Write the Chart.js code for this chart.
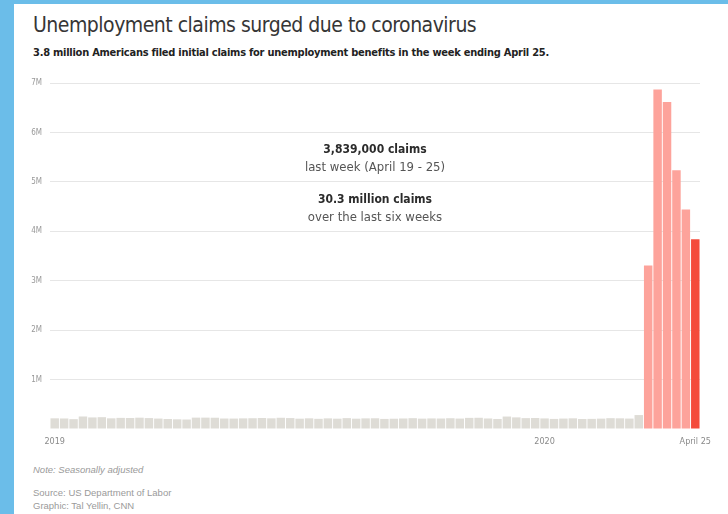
<!DOCTYPE html>
<html>
<head>
<meta charset="utf-8">
<script src="https://cdn.jsdelivr.net/npm/chart.js@4.4.1/dist/chart.umd.min.js"></script>
<style>
	html, body { margin: 0; padding: 0; background: #fff; }
	#page { position: relative; width: 728px; height: 514px; overflow: hidden; background: #fff; }
	.edge-left { position: absolute; left: 0; top: 0; width: 14px; height: 514px; background: #6bbde9; }
	.edge-top { position: absolute; left: 0; top: 0; width: 728px; height: 4px; background: #6bbde9; }
	.cond { font-family: "DejaVu Sans Condensed", "Liberation Sans Narrow", Roboto, sans-serif; font-stretch: condensed; }
	#title { position: absolute; left: 33px; top: 13px; font-size: 21px; line-height: 24px; letter-spacing: -0.5px; color: #363636; white-space: nowrap; }
	#subtitle { position: absolute; left: 33px; top: 46px; font-size: 11px; line-height: 14px; letter-spacing: -0.25px; font-weight: bold; color: #222; white-space: nowrap; }
	.foot { position: absolute; left: 33px; font-family: "Liberation Sans", Arial, sans-serif; font-size: 9.5px; line-height: 12px; color: #9a9a9a; white-space: nowrap; }
	#wrap { position: absolute; left: 14px; top: 60px; width: 714px; height: 400px; }
</style>
</head>
<body>
<div id="page">
	<div class="edge-left"></div>
	<div class="edge-top"></div>
	<div id="title" class="cond">Unemployment claims surged due to coronavirus</div>
	<div id="subtitle" class="cond">3.8 million Americans filed initial claims for unemployment benefits in the week ending April 25.</div>
	<div id="wrap"><canvas id="claims"></canvas></div>
	<div class="foot" style="top:464px;font-style:italic">Note: Seasonally adjusted</div>
	<div class="foot" style="top:487px">Source: US Department of Labor</div>
	<div class="foot" style="top:500px">Graphic: Tal Yellin, CNN</div>
</div>
<script>
// weekly initial jobless claims, seasonally adjusted
const weekEnding = [
	'2019-01-05', '2019-01-12', '2019-01-19', '2019-01-26', '2019-02-02', '2019-02-09', '2019-02-16', '2019-02-23',
	'2019-03-02', '2019-03-09', '2019-03-16', '2019-03-23', '2019-03-30', '2019-04-06', '2019-04-13', '2019-04-20',
	'2019-04-27', '2019-05-04', '2019-05-11', '2019-05-18', '2019-05-25', '2019-06-01', '2019-06-08', '2019-06-15',
	'2019-06-22', '2019-06-29', '2019-07-06', '2019-07-13', '2019-07-20', '2019-07-27', '2019-08-03', '2019-08-10',
	'2019-08-17', '2019-08-24', '2019-08-31', '2019-09-07', '2019-09-14', '2019-09-21', '2019-09-28', '2019-10-05',
	'2019-10-12', '2019-10-19', '2019-10-26', '2019-11-02', '2019-11-09', '2019-11-16', '2019-11-23', '2019-11-30',
	'2019-12-07', '2019-12-14', '2019-12-21', '2019-12-28', '2020-01-04', '2020-01-11', '2020-01-18', '2020-01-25',
	'2020-02-01', '2020-02-08', '2020-02-15', '2020-02-22', '2020-02-29', '2020-03-07', '2020-03-14', '2020-03-21',
	'2020-03-28', '2020-04-04', '2020-04-11', '2020-04-18', '2020-04-25'
]

const claims = [
	216000, 213000, 199000, 253000, 234000, 239000, 216000, 225000,
	223000, 229000, 221000, 211000, 202000, 196000, 192000, 230000,
	230000, 228000, 212000, 211000, 215000, 218000, 222000, 216000,
	227000, 221000, 209000, 216000, 206000, 215000, 209000, 220000,
	209000, 215000, 217000, 204000, 208000, 213000, 219000, 210000,
	214000, 212000, 218000, 211000, 225000, 227000, 213000, 203000,
	252000, 235000, 220000, 222000, 214000, 204000, 211000, 216000,
	202000, 205000, 210000, 219000, 216000, 211000, 282000, 3307000,
	6867000, 6615000, 5237000, 4442000, 3839000
]

// which week gets which x label
const xTickLabels = { '2019-01-05': '2019', '2020-01-04': '2020', '2020-04-25': 'April 25' }
const yTicks = [1000000, 2000000, 3000000, 4000000, 5000000, 6000000, 7000000]

const callout = [
	{ text: '3,839,000 claims', bold: true },
	{ text: 'last week (April 19 - 25)', bold: false },
	{ text: '30.3 million claims', bold: true },
	{ text: 'over the last six weeks', bold: false }
]

const condensed = '"DejaVu Sans Condensed", "Liberation Sans Narrow", Roboto, sans-serif'
const last = claims.length - 1

function barColor(i) {
	if (i === last) return '#f44b3b'
	if (i >= last - 5) return '#fda39b'
	return '#dedcd6'
}

const calloutPlugin = {
	id: 'callout',
	afterDatasetsDraw(chart) {
		const ctx = chart.ctx
		const area = chart.chartArea
		const cx = (area.left + area.right) / 2
		const offsets = [67, 85, 117, 135]
		ctx.save()
		ctx.textAlign = 'center'
		ctx.textBaseline = 'middle'
		callout.forEach((line, i) => {
			ctx.font = (line.bold ? 'bold 12px ' : '13px ') + condensed
			ctx.fillStyle = line.bold ? '#2b2b2b' : '#555'
			ctx.fillText(line.text, cx, area.top + offsets[i])
		})
		ctx.restore()
	}
}

new Chart(document.getElementById('claims').getContext('2d'), {
	type: 'bar',
	data: {
		labels: weekEnding,
		datasets: [{
			label: 'Initial claims',
			data: claims,
			backgroundColor: claims.map((v, i) => barColor(i)),
			barPercentage: 0.9,
			categoryPercentage: 1
		}]
	},
	options: {
		responsive: true,
		maintainAspectRatio: false,
		animation: false,
		layout: { padding: { top: 23, right: 28, left: 0, bottom: 0 } },
		plugins: {
			legend: { display: false },
			tooltip: { enabled: false }
		},
		scales: {
			x: {
				grid: { display: false, drawTicks: false },
				border: { display: false },
				ticks: {
					autoSkip: false,
					maxRotation: 0,
					padding: 7,
					color: '#8a8a8a',
					font: { family: condensed, size: 9 },
					callback: function (val, i) { return xTickLabels[weekEnding[i]] || '' }
				},
				afterFit(scale) { scale.height = 31 }
			},
			y: {
				min: 0,
				max: 7000000,
				afterBuildTicks(scale) { scale.ticks = [0].concat(yTicks).map(v => ({ value: v })) },
				grid: {
					drawTicks: false,
					color: ctx => ctx.tick && ctx.tick.value === 0 ? 'rgba(0,0,0,0)' : '#e6e6e6',
					lineWidth: 1
				},
				border: { display: false },
				ticks: {
					padding: 8,
					color: '#999',
					font: { family: condensed, size: 8 },
					callback: v => v === 0 ? '' : (v / 1000000) + 'M'
				},
				afterFit(scale) { scale.width = 36 }
			}
		}
	},
	plugins: [calloutPlugin]
})
</script>
</body>
</html>
